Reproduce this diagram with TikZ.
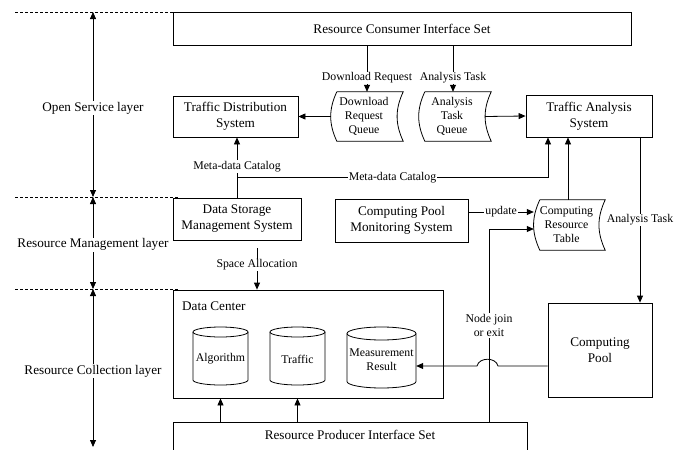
\documentclass[tikz,border=0pt]{standalone}
\usepackage{fontspec}
\setmainfont{Liberation Serif}
\usetikzlibrary{arrows.meta,calc}
\newcommand{\bigtxt}{\fontsize{13.2}{16}\selectfont}
\newcommand{\smtxt}{\fontsize{11.8}{14}\selectfont}

\begin{document}
\begin{tikzpicture}[x=1pt,y=-1pt,
  box/.style={draw, line width=0.8pt, align=center, font=\bigtxt, inner sep=0pt},
  queue/.style={align=center, font=\smtxt, inner sep=0pt, minimum width=66pt, minimum height=49pt},
  drum/.style={align=center, font=\smtxt, inner sep=0pt},
  lbl/.style={fill=white, font=\smtxt, inner sep=1pt, align=center},
  layer/.style={fill=white, font=\bigtxt, inner sep=1pt},
  arr/.style={line width=0.8pt, -{Triangle[length=7pt,width=6pt]}},
  dbl/.style={line width=0.8pt, {Triangle[length=7pt,width=6pt]}-{Triangle[length=7pt,width=6pt]}},
  sep/.style={line width=0.6pt, dash pattern=on 3pt off 2pt},
  edge/.style={line width=0.8pt}]

\clip (0,0) rectangle (686,450);
\fill[white] (0,0) rectangle (686,450);

% ---------- layer markers ----------
\coordinate (y0) at (93,12);
\coordinate (y1) at (93,197);
\coordinate (y2) at (93,289);
\coordinate (y3) at (93,447);
\foreach \c in {y0,y1,y2}
  \draw[sep] ($(\c)+(-78,0)$) -- ($(\c)+(85,0)$);
\draw[dbl] (y0) -- (y1) node[pos=.52, layer] (l1) {Open Service layer};
\draw[dbl] (y1) -- (y2) node[pos=.52, layer] (l2) {Resource Management layer};
\draw[dbl] (y2) -- (y3) node[pos=.52, layer] (l3) {Resource Collection layer};

% ---------- boxes ----------
\node[box, minimum width=458pt, minimum height=33pt] (rcis) at (402,28.5) {Resource Consumer Interface Set};
\node[box, minimum width=125pt, minimum height=41pt] (tds) at (235.5,116.5) {Traffic Distribution\\System};
\node[box, minimum width=126pt, minimum height=42pt] (tas) at (589,116) {Traffic Analysis\\System};
\node[box, minimum width=128pt, minimum height=42pt] (dsms) at (237,219) {Data Storage\\Management System};
\node[box, minimum width=133pt, minimum height=43pt] (cpms) at (401.5,220.5) {Computing Pool\\Monitoring System};
\node[box, minimum width=270pt, minimum height=108pt] (dc) at (308,344) {};
\node[font=\bigtxt, anchor=west, inner sep=0pt] (dct) at (182,306) {Data Center};
\node[box, minimum width=104pt, minimum height=94pt] (cp) at (600,350) {Computing\\Pool};
\node[box, anchor=north, minimum width=354pt, text height=13pt, text depth=30pt, inner ysep=4pt] (rpis) at (350,422) {Resource Producer Interface Set};

% ---------- stored-data queues ----------
\node[queue] (drq) at (364,116.5) {Download\\Request\\Queue};
\node[queue] (atq) at (452,116.5) {Analysis\\Task\\Queue};
\node[queue, minimum width=65pt, minimum height=50pt] (crt) at (566.5,225) {Computing\\Resource\\Table};
\foreach \n in {drq,atq,crt}
  \draw[edge] ($(\n.north west)+(6,0)$) -- ($(\n.north east)+(6,0)$)
    to[bend right=25] ($(\n.south east)+(6,0)$) -- ($(\n.south west)+(6,0)$)
    to[bend left=25] ($(\n.north west)+(6,0)$);

% ---------- storage drums ----------
\node[drum, minimum width=55pt, minimum height=50pt] (alg) at (220.5,359) {Algorithm};
\node[drum, minimum width=55pt, minimum height=50pt] (trf) at (297.5,359) {Traffic};
\node[drum, minimum width=69pt, minimum height=50pt] (mr) at (381.5,360) {Measurement\\Result};
\foreach \n/\rx/\ctop/\cbot/\ry in {alg/27.5/-32/26/5, trf/27.5/-32/26/5, mr/34.5/-33/28/6.5}{
  \draw[edge] ($(\n.center)+(-\rx,\ctop+\ry)$) -- ($(\n.center)+(-\rx,\cbot-\ry)$)
    arc[start angle=180, end angle=360, x radius=\rx pt, y radius=\ry pt]
    -- ($(\n.center)+(\rx,\ctop+\ry)$);
  \draw[edge] ($(\n.center)+(0,\ctop+\ry)$) ellipse[x radius=\rx pt, y radius=\ry pt];
}

% ---------- connectors ----------
\draw[arr] (rcis.south -| 367,0) -- (drq.north -| 367,0) node[pos=.7, lbl] {Download Request};
\draw[arr] (rcis.south -| 453,0) -- (atq.north -| 453,0) node[pos=.7, lbl] {Analysis Task};
\draw[arr] (drq.west) -- (tds.east);
\draw[arr] (atq.east) -- (tas.west);
\draw[arr] (dsms.north) -- (dsms.north |- tds.south) node[pos=.52, lbl] {Meta-data Catalog};
\draw[arr] ($(dsms.north)+(0,-20)$) -| (tas.south -| 548,0) node[pos=.25, lbl] {Meta-data Catalog};
\draw[arr] (crt.north -| 568,0) -- (tas.south -| 568,0);
\coordinate (up) at ($(cpms.east)+(0,-8.5)$);
\draw[arr] (up) -- (up -| crt.west) node[midway, lbl] {update};
\coordinate (at1) at ($(tas.south)+(51,0)$);
\draw[arr] (at1) -- (at1 |- cp.north) node[midway, lbl] {Analysis Task};
\coordinate (sa) at ($(dsms.south)+(20,0)$);
\draw[arr, shorten <=8pt] (sa) -- (sa |- dc.north) node[midway, lbl] {Space Allocation};
\draw[arr] (rpis.north -| 489,0) |- ($(crt.west)+(0,4)$) node[pos=.25, lbl] {Node join\\or exit};
\draw[arr] ($(cp.west)+(0,16)$) -- (498,366) .. controls (496,357) and (479,357) .. (477,366) -- (mr.east |- 0,366);
\draw[arr] (rpis.north -| alg) -- (dc.south -| alg);
\draw[arr] (rpis.north -| trf) -- (dc.south -| trf);
\end{tikzpicture}
\end{document}
